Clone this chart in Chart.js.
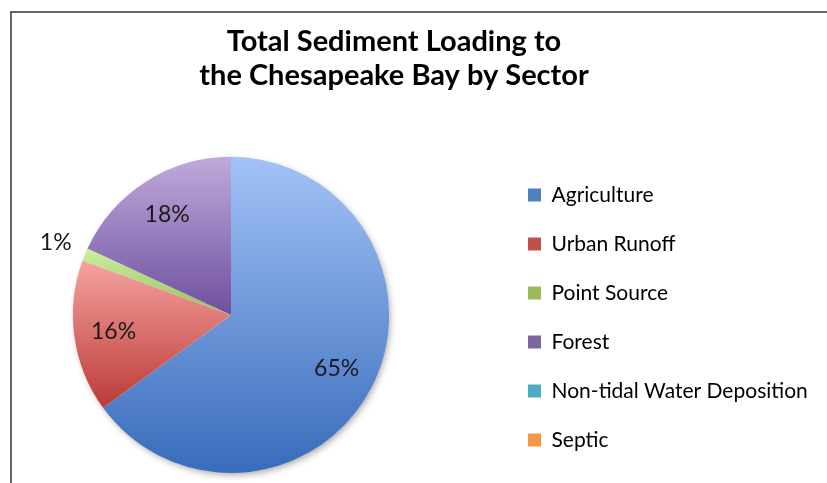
<!DOCTYPE html>
<html>
<head>
<meta charset="utf-8">
<script src="https://cdn.jsdelivr.net/npm/chart.js@4/dist/chart.umd.min.js"></script>
<style>
  body { margin: 0; background: #fff; }
  .wrap { position: relative; width: 827px; height: 483px; }
  .frame { position: absolute; left: 10px; top: 11px; right: 0; bottom: 0;
           border-left: 2px solid #666; border-top: 2px solid #666; pointer-events: none; }
</style>
</head>
<body>
<div class="wrap">
  <canvas id="chartSediment" width="827" height="483"></canvas>
  <div class="frame"></div>
</div>
<script>
const categories = ['Agriculture', 'Urban Runoff', 'Point Source', 'Forest', 'Non-tidal Water Deposition', 'Septic'];
const shares = [65.0, 15.6, 1.3, 18.1, 0, 0];
const legendColors = ['#4f81bd', '#c0504d', '#9bbb59', '#8064a2', '#4bacc6', '#f79646'];
const lightColors = ['#a3c3f7', '#f5a3a1', '#cdeea0', '#bfaadb', '#9ad7ea', '#fbc197'];
const darkColors = ['#386bba', '#bb3a37', '#93c25b', '#6e4f9e', '#3aa0bf', '#f07d2c'];

const total = shares.reduce((a, b) => a + b, 0);

// vertical extent of one slice, so each slice gets its own top-to-bottom gradient
function sliceExtent(i, cy, r) {
  const before = shares.slice(0, i).reduce((a, b) => a + b, 0);
  const a0 = -Math.PI / 2 + 2 * Math.PI * before / total;
  const a1 = a0 + 2 * Math.PI * shares[i] / total;
  const ys = [cy, cy + r * Math.sin(a0), cy + r * Math.sin(a1)];
  [-Math.PI / 2, Math.PI / 2, 3 * Math.PI / 2].forEach(k => {
    if (k >= a0 && k <= a1) ys.push(cy + r * Math.sin(k));
  });
  return [Math.min(...ys), Math.max(...ys)];
}

const sliceFill = (ctx) => {
  const i = ctx.dataIndex;
  const area = ctx.chart.chartArea;
  if (!area) return legendColors[i];
  const cy = (area.top + area.bottom) / 2;
  const r = Math.min(area.right - area.left, area.bottom - area.top) / 2;
  const [y0, y1] = sliceExtent(i, cy, r);
  const g = ctx.chart.ctx.createLinearGradient(0, y0, 0, Math.max(y1, y0 + 1));
  g.addColorStop(0, lightColors[i]);
  g.addColorStop(1, darkColors[i]);
  return g;
};

// legend sits well to the right of the pie, as in the original sheet
const legendPlacement = {
  id: 'legendPlacement',
  beforeInit(chart) {
    const fit = chart.legend.fit;
    chart.legend.fit = function () {
      fit.call(this);
      this.width = 326;
    };
  },
  afterLayout(chart) {
    const lg = chart.legend;
    lg.left += 38; lg.right += 38;
    lg.top += 81; lg.bottom += 81;
  }
};

const pieShadow = {
  id: 'pieShadow',
  beforeDatasetsDraw(chart) {
    const arc = chart.getDatasetMeta(0).data[0];
    if (!arc) return;
    const { x, y, outerRadius } = arc.getProps(['x', 'y', 'outerRadius'], true);
    const c = chart.ctx;
    c.save();
    c.shadowColor = 'rgba(0,0,0,0.35)';
    c.shadowBlur = 7;
    c.shadowOffsetX = 2;
    c.shadowOffsetY = 3;
    c.fillStyle = '#ffffff';
    c.beginPath();
    c.arc(x, y, outerRadius - 1, 0, Math.PI * 2);
    c.fill();
    c.restore();
  }
};

const percentLabels = {
  id: 'percentLabels',
  afterDatasetsDraw(chart) {
    const c = chart.ctx;
    c.save();
    c.font = '23px Lato';
    c.fillStyle = '#1a1a1a';
    c.textAlign = 'center';
    c.textBaseline = 'middle';
    chart.getDatasetMeta(0).data.forEach((arc, i) => {
      if (shares[i] <= 0) return;
      const { x, y, startAngle, endAngle, outerRadius } =
        arc.getProps(['x', 'y', 'startAngle', 'endAngle', 'outerRadius'], true);
      const mid = (startAngle + endAngle) / 2;
      const dist = shares[i] < 3 ? outerRadius * 1.2 : outerRadius * 0.75;
      c.fillText(Math.round(shares[i]) + '%', x + Math.cos(mid) * dist, y + Math.sin(mid) * dist);
    });
    c.restore();
  }
};

new Chart(document.getElementById('chartSediment').getContext('2d'), {
  type: 'pie',
  data: {
    labels: categories,
    datasets: [{
      data: shares,
      backgroundColor: sliceFill,
      borderWidth: 0,
      hoverOffset: 0
    }]
  },
  options: {
    responsive: false,
    animation: false,
    layout: { padding: { left: 0, right: 39, top: 0, bottom: 10 } },
    plugins: {
      title: {
        display: true,
        text: ['Total Sediment Loading to', 'the Chesapeake Bay by Sector'],
        color: '#000',
        font: { family: 'Lato', size: 29, weight: 'bold', lineHeight: 1.17 },
        padding: { top: 25, bottom: 64 }
      },
      legend: {
        position: 'right',
        labels: {
          font: { family: 'Lato', size: 21 },
          color: '#1a1a1a',
          boxWidth: 13,
          boxHeight: 13,
          padding: 28,
          generateLabels: () => categories.map((t, i) => ({
            text: t,
            fillStyle: legendColors[i],
            strokeStyle: legendColors[i],
            lineWidth: 0,
            hidden: false,
            index: i
          }))
        }
      }
    }
  },
  plugins: [legendPlacement, pieShadow, percentLabels]
});
</script>
</body>
</html>
